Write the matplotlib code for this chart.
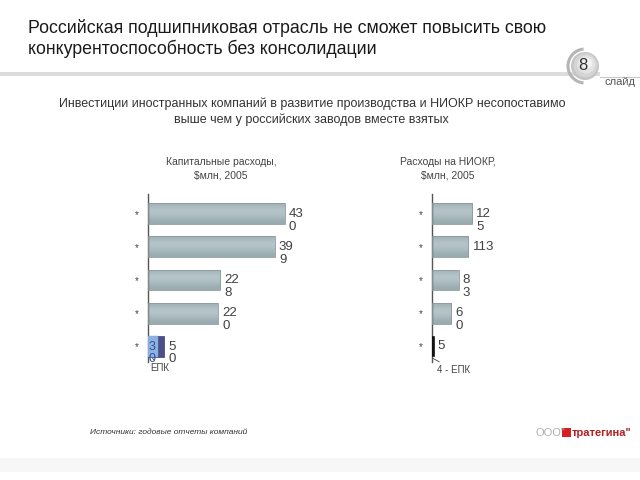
import matplotlib
matplotlib.use("Agg")
import matplotlib.pyplot as plt
import numpy as np
from matplotlib.patches import Circle, Rectangle, Arc
from matplotlib.colors import LinearSegmentedColormap

plt.rcParams['font.family'] = ['Liberation Sans', 'DejaVu Sans']

# ---- data ----
capex_labels = ["*", "*", "*", "*", "*"]
capex_values = [430, 399, 228, 220, 50]
capex_epk_part = 30
capex_value_text = ["43\n0", "39\n9", "22\n8", "22\n0", "5\n0"]

rnd_labels = ["*", "*", "*", "*", "*"]
rnd_values = [125, 113, 83, 60, 5]
rnd_value_text = ["12\n5", "113", "8\n3", "6\n0", "5"]

W, H = 640, 480
fig = plt.figure(figsize=(6.4, 4.8), dpi=100)
fig.patch.set_facecolor("white")

def fx(x): return x / W
def fy(y): return 1 - y / H

# header
fig.text(fx(28), fy(28), "Российская подшипниковая отрасль не сможет повысить свою",
         fontsize=12.8, color="#1a1a1a", va="center", ha="left")
fig.text(fx(28), fy(49), "конкурентоспособность без консолидации",
         fontsize=12.8, color="#1a1a1a", va="center", ha="left")

bg = fig.add_axes([0, 0, 1, 1], zorder=-5)
bg.set_xlim(0, W); bg.set_ylim(H, 0); bg.axis("off")
# grey rule
bg.add_patch(Rectangle((0, 72), 600, 3.5, color="#dcdcdc", lw=0))
bg.plot([600, 640], [77, 77], color="#c8c8c8", lw=0.8)
# slide badge
bg.add_patch(Arc((585, 66), 34, 34, theta1=95, theta2=265, color="#b5b5b5", lw=2.2))
for r, c in [(14, "#c4c4c4"), (12, "#d4d4d4"), (9, "#e3e3e3"), (5, "#f2f2f2")]:
    bg.add_patch(Circle((585 + (14 - r) * 0.25, 66 - (14 - r) * 0.3), r, color=c, lw=0))
bg.text(583, 66, "8", fontsize=12, color="#333333", ha="center", va="center")
bg.text(620, 82, "слайд", fontsize=8, color="#555555", ha="center", va="center")
# faint footer band
bg.add_patch(Rectangle((0, 458), 640, 14, color="#f7f7f7", lw=0))

fig.text(fx(312), fy(104), "Инвестиции иностранных компаний в развитие производства и НИОКР несопоставимо",
         fontsize=9, color="#333333", ha="center", va="center")
fig.text(fx(311), fy(120), "выше чем у российских заводов вместе взятых",
         fontsize=9, color="#333333", ha="center", va="center")

fig.text(fx(221), fy(169), "Капитальные расходы,\n$млн, 2005", fontsize=7.5, color="#444444",
         ha="center", va="center", linespacing=1.45)
fig.text(fx(448), fy(169), "Расходы на НИОКР,\n$млн, 2005", fontsize=7.5, color="#444444",
         ha="center", va="center", linespacing=1.45)

grad = np.array([[0.55], [0.75], [0.85], [0.8], [0.7], [0.55], [0.45]])
cmap = LinearSegmentedColormap.from_list("g", ["#7b8e93", "#c0cfd3"])

def gradient_bars(ax, bars):
    for b in bars:
        x, y, w, h = b.get_x(), b.get_y(), b.get_width(), b.get_height()
        im = ax.imshow(grad, cmap=cmap, vmin=0, vmax=1, aspect="auto",
                       extent=(x, x + w, y + h, y), zorder=2, interpolation="bicubic")
        im.set_clip_path(b)
        b.set_facecolor("none")
        b.set_edgecolor("#8a9a9f")
        b.set_linewidth(0.6)
        b.set_zorder(3)

def setup(ax, xmax):
    ax.set_xlim(0, xmax)
    ax.set_ylim(4.47, -0.59)
    for s in ["top", "right", "bottom"]:
        ax.spines[s].set_visible(False)
    ax.spines["left"].set_color("#555555")
    ax.spines["left"].set_linewidth(1.0)
    ax.set_xticks([])
    ax.tick_params(axis="y", length=0, pad=7, labelsize=7, labelcolor="#444444")

# left chart
ax1 = fig.add_axes([fx(148), fy(362), 143 / W, 168 / H])
setup(ax1, 450)
y = np.arange(len(capex_values))
bars1 = ax1.barh(y[:4], capex_values[:4], height=0.63)
gradient_bars(ax1, bars1)
ax1.barh(y[4], capex_values[4], height=0.63, color="#4b4f8c", edgecolor="#3a3d70", lw=0.5, zorder=3)
ax1.barh(y[4], capex_epk_part, height=0.63, color="#8fb3e0", edgecolor="#7aa0d0", lw=0.3, zorder=4)
ax1.set_yticks(y)
ax1.set_yticklabels(capex_labels)
for i in range(5):
    ax1.text(capex_values[i] + 13, y[i] + 0.2, capex_value_text[i], fontsize=9.5, color="#404040",
             va="center", ha="left", linespacing=1.1)
ax1.text(3, y[4] + 0.2, "3\n0", fontsize=9, color="#3050a0", va="center", ha="left",
         linespacing=1.1, zorder=6)
ax1.annotate("ЕПК", xy=(14, 4.35), xytext=(38, 4.65), fontsize=7, color="#444444",
             ha="center", va="center", annotation_clip=False,
             arrowprops=dict(arrowstyle="-", color="#444444", lw=0.6, shrinkA=3, shrinkB=0))

# right chart
ax2 = fig.add_axes([fx(432), fy(362), 45 / W, 168 / H])
setup(ax2, 140)
bars2 = ax2.barh(y[:4], rnd_values[:4], height=0.63)
gradient_bars(ax2, bars2)
ax2.barh(y[4], rnd_values[4], height=0.56, color="#111111", edgecolor="#111111", lw=1.2, zorder=3)
ax2.set_yticks(y)
ax2.set_yticklabels(rnd_labels)
for i in range(5):
    dy = 0.2 if "\n" in rnd_value_text[i] else 0.0
    ax2.text(rnd_values[i] + 13, y[i] + dy, rnd_value_text[i], fontsize=9.5, color="#404040",
             va="center", ha="left", linespacing=1.1)
ax2.annotate("4 - ЕПК", xy=(1, 4.35), xytext=(15, 4.7), fontsize=7, color="#444444",
             ha="left", va="center", annotation_clip=False,
             arrowprops=dict(arrowstyle="-", color="#444444", lw=0.6, shrinkA=0, shrinkB=0))

# footer
fig.text(fx(90), fy(432), "Источники: годовые отчеты компаний", fontsize=6, color="#333333",
         ha="left", va="center", style="italic")
fig.text(fx(535), fy(433), "ООО\"", fontsize=8, color="#b0b0b0", ha="left", va="center")
bg.add_patch(Rectangle((562, 428), 9, 9, color="#d42020", lw=0))
fig.text(fx(572), fy(433), "тратегина\"", fontsize=8, color="#b02020", ha="left", va="center",
         weight="bold")

fig.savefig("out.png", dpi=100)
